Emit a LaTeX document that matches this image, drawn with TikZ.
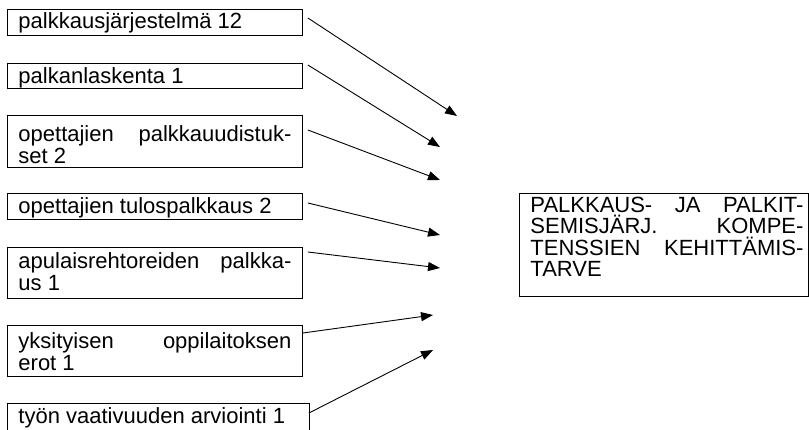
\documentclass[tikz,border=0pt]{standalone}
\usepackage{fontspec}
\setmainfont{Liberation Sans}
\usetikzlibrary{arrows.meta}

% Box text: left/right padding, top strut height, bottom strut depth, lines
\newcommand{\boxlines}[5]{%
  \noindent\leftskip=#1\relax\rightskip=#2\relax
  \vrule height #3 depth 0pt width 0pt\relax
  #5\vrule height 0pt depth #4 width 0pt\relax\par}

\begin{document}
\begin{tikzpicture}[x=1pt,y=-1pt,
  every node/.style={font=\fontsize{22}{22}\selectfont},
  item/.style={draw, line width=0.9pt, rectangle, anchor=north west,
    inner sep=0pt, text width=295pt, align=justify},
  arr/.style={line width=0.9pt, -{Triangle[length=12pt,width=9pt]}}]
\useasboundingbox (0,0) rectangle (809,430);

% factor boxes
\node[item] (b1) at (7,9.5)
  {\boxlines{11pt}{11pt}{19pt}{6.5pt}{palkkausjärjestelmä 12}};
\node[item] (b2) at (7,63)
  {\boxlines{11pt}{11pt}{20pt}{5pt}{palkanlaskenta 1}};
\node[item] (b3) at (7,115)
  {\boxlines{11pt}{11pt}{26pt}{4pt}{opettajien\hfill palkkauudistuk-\break set 2}};
\node[item] (b4) at (7,193)
  {\boxlines{11pt}{11pt}{20pt}{6pt}{opettajien tulospalkkaus 2}};
\node[item] (b5) at (7,247)
  {\boxlines{11pt}{11pt}{21pt}{8pt}{apulaisrehtoreiden\hfill palkka-\break us 1}};
\node[item] (b6) at (7,325)
  {\boxlines{11pt}{11pt}{23.5pt}{5.5pt}{yksityisen\hfill oppilaitoksen\break erot 1}};
\node[item, text width=302pt] (b7) at (7,403)
  {\boxlines{11pt}{11pt}{20pt}{10pt}{työn vaativuuden arviointi 1}};

% target box
\node[item, text width=289pt, font=\fontsize{22}{21.5}\selectfont] (goal) at (519,193)
  {\boxlines{11pt}{5pt}{19pt}{20pt}{PALKKAUS-\hfill JA\hfill PALKIT-\break
   SEMISJÄRJ.\hfill KOMPE-\break TENSSIEN\hfill KEHITTÄMIS-\break TARVE}};

% arrow end points
\coordinate (t1) at (457,116);
\coordinate (t2) at (440,147);
\coordinate (t3) at (440,180);
\coordinate (t4) at (440,235);
\coordinate (t5) at (440,268);
\coordinate (t6) at (433,315);
\coordinate (t7) at (433,350);

\draw[arr] ([shift={(5,8.5)}]b1.north east) -- (t1);
\draw[arr] ([shift={(5,2)}]b2.north east) -- (t2);
\draw[arr] ([shift={(5,15)}]b3.north east) -- (t3);
\draw[arr] ([shift={(5,10)}]b4.north east) -- (t4);
\draw[arr] ([shift={(5,5)}]b5.north east) -- (t5);
\draw[arr] ([shift={(0,8)}]b6.north east) -- (t6);
\draw[arr] ([shift={(-1,10)}]b7.north east) -- (t7);
\end{tikzpicture}
\end{document}
